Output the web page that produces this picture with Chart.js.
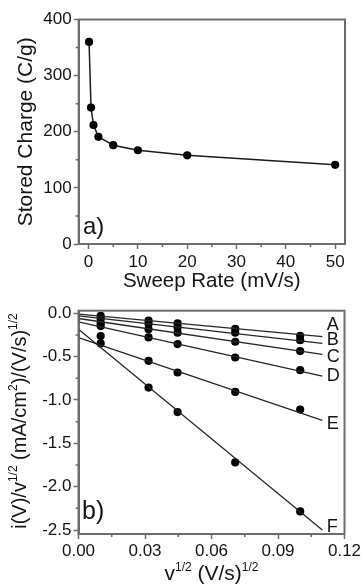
<!DOCTYPE html>
<html><head><meta charset="utf-8">
<script src="https://cdn.jsdelivr.net/npm/chart.js@4/dist/chart.umd.min.js"></script>
<style>
html,body{margin:0;padding:0;background:#fff;}
#wrap{position:relative;width:364px;height:584px;overflow:hidden;background:#fff;}
canvas{position:absolute;left:0;}
#c1{top:0;} #c2{top:292px;}
</style></head><body>
<div id="wrap"><canvas id="c1" width="364" height="292"></canvas><canvas id="c2" width="364" height="292"></canvas></div>
<script>
// ---------- panel a) data ----------
const sweepRate = [0.1, 0.5, 1, 2, 5, 10, 20, 50];          // mV/s
const storedCharge = [360, 243, 212, 191, 176, 167, 158, 141]; // C/g
const aXTicks = [0, 10, 20, 30, 40, 50];
const aXTickLabels = ['0', '10', '20', '30', '40', '50'];
const aXMinor = [5, 15, 25, 35, 45];
const aYTicks = [0, 100, 200, 300, 400];
const aYTickLabels = ['0', '100', '200', '300', '400'];
const aYMinor = [50, 150, 250, 350];

// ---------- panel b) data ----------
const sqrtRate = [0.01, 0.0316, 0.0447, 0.0707, 0.1];        // (V/s)^1/2
const curveNames = ['A', 'B', 'C', 'D', 'E', 'F'];
const curveA = [-0.030, -0.085, -0.116, -0.180, -0.260];
const curveB = [-0.066, -0.124, -0.162, -0.224, -0.310];
const curveC = [-0.116, -0.185, -0.224, -0.328, -0.436];
const curveD = [-0.147, -0.278, -0.355, -0.510, -0.656];
const curveE = [-0.347, -0.548, -0.683, -0.907, -1.111];
const curveF = [-0.263, -0.857, -1.139, -1.720, -2.285];
const fitX = [0, 0.11];
const fitStart = [-0.010, -0.030, -0.060, -0.100, -0.280, -0.185];
const fitEnd = [-0.270, -0.347, -0.475, -0.726, -1.235, -2.500];
const curveLabelX = 0.112;
const curveLabelY = [-0.135, -0.309, -0.509, -0.726, -1.273, -2.470];
const bXTicks = [0, 0.03, 0.06, 0.09, 0.12];
const bXTickLabels = ['0.00', '0.03', '0.06', '0.09', '0.12'];
const bXMinor = [0.015, 0.045, 0.075, 0.105];
const bYTicks = [0, -0.5, -1.0, -1.5, -2.0, -2.5];
const bYTickLabels = ['0.0', '-0.5', '-1.0', '-1.5', '-2.0', '-2.5'];
const bYMinor = [-0.25, -0.75, -1.25, -1.75, -2.25];

const FONT = '"Liberation Sans", Arial, Helvetica, sans-serif';
const AXIS = '#6c6c6c';
const INK = '#141414';

function drawRich(ctx, segs, x, y, rot, size, supSize, align) {
  ctx.save();
  ctx.translate(x, y);
  if (rot) ctx.rotate(rot);
  ctx.fillStyle = INK;
  ctx.textBaseline = 'alphabetic';
  ctx.textAlign = 'left';
  const widths = segs.map(s => { ctx.font = (s.sup ? supSize : size) + 'px ' + FONT; return ctx.measureText(s.t).width; });
  const total = widths.reduce((a, b) => a + b, 0);
  let cx = align === 'center' ? -total / 2 : 0;
  segs.forEach((s, i) => {
    ctx.font = (s.sup ? supSize : size) + 'px ' + FONT;
    ctx.fillText(s.t, cx, s.sup ? -size * 0.45 : 0);
    cx += widths[i];
  });
  ctx.restore();
}

const decor = {
  id: 'decor',
  afterDraw(chart, args, o) {
    const ctx = chart.ctx, a = chart.chartArea;
    const xs = chart.scales.x, ys = chart.scales.y;
    ctx.save();
    ctx.strokeStyle = AXIS; ctx.lineWidth = 1.5;
    ctx.beginPath();
    (o.minorX || []).forEach(v => { const px = xs.getPixelForValue(v); ctx.moveTo(px, a.bottom); ctx.lineTo(px, a.bottom + 3); });
    (o.minorY || []).forEach(v => { const py = ys.getPixelForValue(v); ctx.moveTo(a.left, py); ctx.lineTo(a.left - 3, py); });
    ctx.stroke();
    ctx.lineWidth = 2;
    ctx.strokeRect(a.left, a.top, a.right - a.left, a.bottom - a.top);
    ctx.restore();
    (o.texts || []).forEach(t => drawRich(ctx, t.segs, t.x, t.y, t.rot || 0, t.size, t.sup || 12, t.align || 'center'));
    if (o.curveLabels) {
      ctx.save();
      ctx.fillStyle = INK; ctx.font = '18px ' + FONT; ctx.textBaseline = 'middle'; ctx.textAlign = 'left';
      o.curveLabels.names.forEach((n, i) => ctx.fillText(n, xs.getPixelForValue(o.curveLabels.x), ys.getPixelForValue(o.curveLabels.y[i])));
      ctx.restore();
    }
  }
};

function axisCommon(tickVals, tickLabels, min, max) {
  return {
    type: 'linear', min, max,
    afterBuildTicks: s => { s.ticks = tickVals.map(v => ({ value: v })); },
    ticks: { callback: (v, i) => tickLabels[i], color: INK, font: { size: 17, family: FONT }, padding: 2, maxRotation: 0, autoSkip: false },
    grid: { drawOnChartArea: false, drawTicks: true, tickLength: 5, color: AXIS, tickWidth: 1.5 },
    border: { display: true, color: AXIS, width: 2 }
  };
}

// ---------- chart a) ----------
const xa = axisCommon(aXTicks, aXTickLabels, -2, 52);
xa.afterFit = s => { s.height = 48; };
xa.ticks.padding = 3;
const ya = axisCommon(aYTicks, aYTickLabels, 0, 400);
ya.afterFit = s => { s.width = 78.7; };

new Chart(document.getElementById('c1'), {
  type: 'scatter',
  data: {
    datasets: [{
      data: sweepRate.map((x, i) => ({ x, y: storedCharge[i] })),
      showLine: true, borderColor: '#1a1a1a', borderWidth: 1.5,
      backgroundColor: '#000', pointRadius: 4.1, pointBorderWidth: 0, tension: 0
    }]
  },
  options: {
    responsive: false, animation: false,
    layout: { padding: { left: 0, right: 19, top: 19.5, bottom: 0 } },
    plugins: {
      legend: { display: false }, tooltip: { enabled: false },
      decor: {
        minorX: aXMinor, minorY: aYMinor,
        texts: [
          { segs: [{ t: 'Sweep Rate (mV/s)' }], x: 211.8, y: 287, size: 20.5 },
          { segs: [{ t: 'Stored Charge (C/g)' }], x: 32, y: 131.8, rot: -Math.PI / 2, size: 21 },
          { segs: [{ t: 'a)' }], x: 83, y: 234, size: 24, align: 'left' }
        ]
      }
    },
    scales: { x: xa, y: ya }
  },
  plugins: [decor]
});

// ---------- chart b) ----------
const xb = axisCommon(bXTicks, bXTickLabels, 0, 0.12);
xb.afterFit = s => { s.height = 50; };
const yb = axisCommon(bYTicks, bYTickLabels, -2.546, 0.03);
yb.afterFit = s => { s.width = 78.5; };

const curves = [curveA, curveB, curveC, curveD, curveE, curveF];
const dsB = [];
curves.forEach((c, k) => {
  dsB.push({
    type: 'line', data: fitX.map((x, j) => ({ x, y: j === 0 ? fitStart[k] : fitEnd[k] })),
    borderColor: '#262626', borderWidth: 1.3, pointRadius: 0, tension: 0, fill: false
  });
});
curves.forEach((c, k) => {
  dsB.push({
    type: 'scatter', data: sqrtRate.map((x, i) => ({ x, y: c[i] })),
    backgroundColor: '#000', pointRadius: 4.1, pointBorderWidth: 0, showLine: false
  });
});

new Chart(document.getElementById('c2'), {
  type: 'scatter',
  data: { datasets: dsB },
  options: {
    responsive: false, animation: false,
    layout: { padding: { left: 0, right: 19.5, top: 18.7, bottom: 0 } },
    plugins: {
      legend: { display: false }, tooltip: { enabled: false },
      decor: {
        minorX: bXMinor, minorY: bYMinor,
        curveLabels: { names: curveNames, x: curveLabelX, y: curveLabelY },
        texts: [
          { segs: [{ t: 'v' }, { t: '1/2', sup: true }, { t: ' (V/s)' }, { t: '1/2', sup: true }], x: 211.5, y: 288, size: 21, sup: 12 },
          { segs: [{ t: 'i(V)/v' }, { t: '1/2', sup: true }, { t: ' (mA/cm' }, { t: '2', sup: true }, { t: ')/(V/s)' }, { t: '1/2', sup: true }], x: 26, y: 129, rot: -Math.PI / 2, size: 20, sup: 12 },
          { segs: [{ t: 'b)' }], x: 82, y: 227, size: 25, align: 'left' }
        ]
      }
    },
    scales: { x: xb, y: yb }
  },
  plugins: [decor]
});
</script>
</body></html>
